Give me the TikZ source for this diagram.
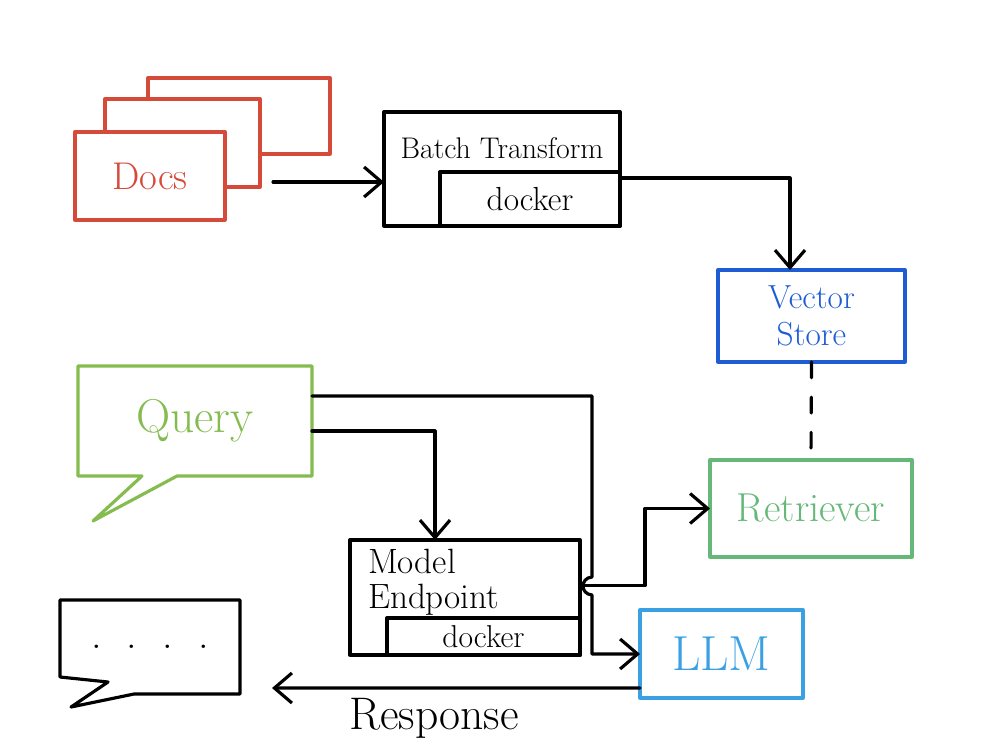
\documentclass[tikz,border=0pt]{standalone}
\usepackage{xcolor}
\usepackage{tikz}
\usetikzlibrary{arrows.meta,positioning}

\definecolor{docsred}{RGB}{214,74,58}
\definecolor{querygreen}{RGB}{132,188,80}
\definecolor{vsblue}{RGB}{30,92,212}
\definecolor{retgreen}{RGB}{102,184,120}
\definecolor{llmblue}{RGB}{58,160,228}

\begin{document}
\begin{tikzpicture}[
          x=0.02cm, y=-0.02cm,
          line width=1.8pt, line join=round, line cap=round,
          every node/.style={inner sep=0pt, outer sep=0pt},
          hand/.style={font=\fontsize{#1}{#1}\selectfont},
          box/.style={draw, rectangle, line width=1.9pt},
          sheet/.style={box, draw=docsred, fill=white, minimum height=1.76cm},
          vsbox/.style={box, draw=vsblue, text=vsblue, align=center, font=\fontsize{19}{21}\selectfont},
          retbox/.style={box, draw=retgreen, text=retgreen, hand=23},
          llmbox/.style={box, draw=llmblue, text=llmblue, hand=28},
          arr/.style={-{Straight Barb[length=3.5mm,width=6mm]}},
          dline/.style={dashed, dash pattern=on 9pt off 11pt},
        ]
          \useasboundingbox (0,0) rectangle (1000,750);
          \node[sheet, minimum width=3.64cm, minimum height=1.52cm] (docsback) at (239,116) {};
          \node[sheet, minimum width=3.1cm]  (docsmid) at (182.5,143) {};
          \node[sheet, minimum width=3.0cm, text=docsred, hand=22] (docs) at (150,176) {Docs};
          \node[box, minimum width=4.72cm, minimum height=2.28cm] (batch) at (502,169) {};
          \node[box, minimum width=3.6cm, minimum height=1.08cm, hand=19] (batchdocker) at (530,199) {docker};
          \node[hand=17] (batchlbl) at (502,148) {Batch Transform};
          \node[vsbox, minimum width=3.74cm, minimum height=1.84cm] (vstore) at (811.5,316) {Vector\\Store};
          \node[retbox, minimum width=4.04cm, minimum height=1.94cm] (retriever) at (811,508.5) {Retriever};
          \node[llmbox, minimum width=3.26cm, minimum height=1.76cm] (llm) at (721.5,654) {LLM};
          \node[minimum width=4.68cm, minimum height=2.2cm, text=querygreen, hand=27] (query) at (195,421) {Query};
          \node[box, minimum width=4.6cm, minimum height=2.3cm] (model) at (465,597.5) {};
          \node[box, minimum width=3.86cm, minimum height=0.74cm, hand=18] (modeldocker) at (483.5,636.5) {docker};
          \node[anchor=north west, align=left, font=\fontsize{20}{20}\selectfont] (modellbl) at (368,549) {Model\\Endpoint};
          \node[minimum width=3.6cm, minimum height=1.88cm, hand=24] (reply) at (150,647) {.\hspace{0.5cm}.\hspace{0.5cm}.\hspace{0.5cm}.};
          \draw[querygreen] (query.south east) -- (query.north east) -- (query.north west) -- (query.south west)
            -- ++(64,0) -- ++(-49,45) -- ++(84,-45) -- cycle;
          \draw (reply.south east) -- (reply.north east) -- (reply.north west) -- ++(0,77)
            -- ++(48,5) -- ++(-37,25) -- ++(63,-13) -- cycle;
          \coordinate (docsout) at (273,182);
          \coordinate (replyin) at (272,688);
          \draw[arr] (docsout) -- (docsout -| batch.west);
          \draw[arr] ([yshift=-0.18cm]batch.east) -| ([xshift=-0.43cm]vstore.north);
          \draw[dline] (vstore.south) -- (retriever.north);
          \draw[arr] ([yshift=-0.2cm]query.east) -| ([xshift=-0.6cm]model.north);
          \draw[arr] ([yshift=0.5cm]query.east) -| (592,577) .. controls (580,578) and (580,594) .. (592,595) |- (llm.west);
          \draw[arr] ([yshift=0.24cm]model.east) -- ++(65,0) |- (retriever.west);
          \draw[arr] ([yshift=-0.68cm]llm.west) -- node[pos=0.56, below=0.2cm, hand=26] (resplbl) {Response} (replyin);
        \end{tikzpicture}
\end{document}
